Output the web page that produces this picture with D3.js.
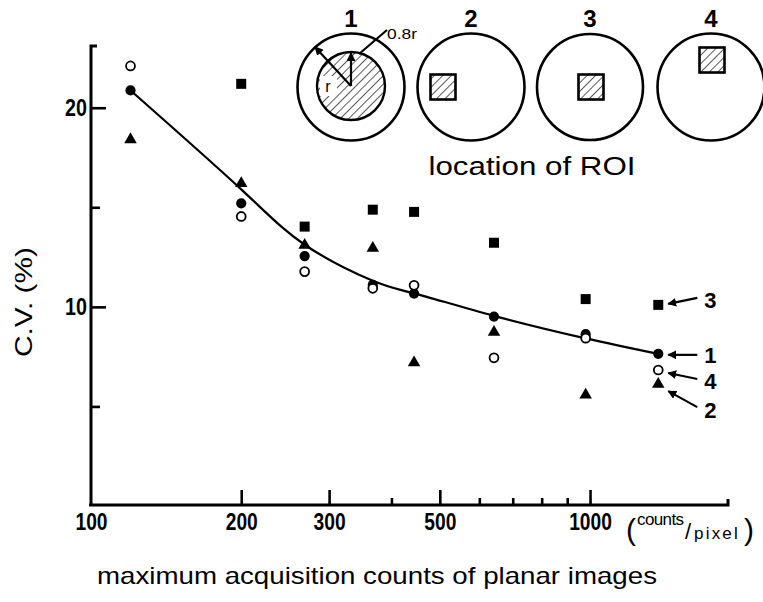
<!DOCTYPE html>
<html>
<head>
<meta charset="utf-8">
<script src="https://cdn.jsdelivr.net/npm/d3@7"></script>
<style>
  body { margin: 0; background: #fff; }
  svg { display: block; }
  text { font-family: "Liberation Sans", Arial, Helvetica, sans-serif; fill: #000; }
</style>
</head>
<body>
<svg id="chart" width="763" height="602"></svg>
<script>
// Maximum acquisition counts (counts/pixel) of the planar images
const counts = [120, 200, 268, 367, 444, 642, 980, 1370];

// Coefficient of variation (%) for each ROI location
const cvROI1 = [20.87, 15.2, 12.55, 11.1, 10.67, 9.51, 8.63, 7.64];   // filled circle
const cvROI2 = [18.4, 16.2, 13.1, 12.95, 7.2, 8.73, 5.58, 6.12];      // filled triangle
const cvROI3 = [null, 21.2, 14.03, 14.88, 14.77, 13.22, 10.39, 10.1]; // filled square
const cvROI4 = [22.1, 14.54, 11.77, 10.93, 11.08, 7.44, 8.43, 6.83];  // open circle

// Smoothed trend through the ROI 1 values
const trendCV = [20.87, 15.9, 13.12, 11.31, 10.68, 9.55, 8.42, 7.64];

// Axis ticks
const xLabelTicks = [100, 200, 300, 500, 1000];
const xMinorTicks = [400, 600, 700, 800, 900];
const yLabelTicks = [10, 20];
const yMinorTicks = [5, 15];

const svg = d3.select("#chart");

const x = d3.scaleLog().domain([100, 1890]).range([91, 728]);
const y = d3.scaleLinear().domain([0, 23.1]).range([506, 46]);

function condense(sel, k) {
  sel.each(function () {
    const w = this.getComputedTextLength();
    d3.select(this).attr("textLength", w * k).attr("lengthAdjust", "spacingAndGlyphs");
  });
}

// ---------- hatch pattern and arrowhead ----------
const defs = svg.append("defs");
defs.append("pattern")
  .attr("id", "hatch")
  .attr("patternUnits", "userSpaceOnUse")
  .attr("width", 6).attr("height", 6)
  .attr("patternTransform", "rotate(45)")
  .append("line")
  .attr("x1", 0).attr("y1", 0).attr("x2", 0).attr("y2", 6)
  .attr("stroke", "#000").attr("stroke-width", 1.3);

defs.append("marker")
  .attr("id", "head")
  .attr("viewBox", "0 0 10 10")
  .attr("refX", 9).attr("refY", 5)
  .attr("markerWidth", 4).attr("markerHeight", 4)
  .attr("markerUnits", "strokeWidth")
  .attr("orient", "auto")
  .append("path").attr("d", "M0,0 L10,5 L0,10 Z").attr("fill", "#000");

// ---------- axes ----------
const gY = svg.append("g").attr("transform", "translate(91,0)")
  .call(d3.axisLeft(y).tickValues(yLabelTicks).tickSizeInner(-15).tickSizeOuter(0)
    .tickPadding(4).tickFormat(d3.format("d")));
const gYm = svg.append("g").attr("transform", "translate(91,0)")
  .call(d3.axisLeft(y).tickValues(yMinorTicks).tickSizeInner(-9).tickSizeOuter(0).tickFormat(""));

const gX = svg.append("g").attr("transform", "translate(0,505)")
  .call(d3.axisBottom(x).tickValues(xLabelTicks).tickSizeInner(-15).tickSizeOuter(0)
    .tickPadding(8).tickFormat(d3.format("d")));
const gXm = svg.append("g").attr("transform", "translate(0,505)")
  .call(d3.axisBottom(x).tickValues(xMinorTicks).tickSizeInner(-7).tickSizeOuter(0).tickFormat(""));

[gY, gYm, gX, gXm].forEach(g => {
  g.select(".domain").remove();
  g.attr("font-family", null).attr("font-size", null);
  g.selectAll("line").attr("stroke", "#000").attr("stroke-width", 2.6);
});
gX.selectAll(".tick").filter(d => d === 100).select("line").remove();

gY.selectAll("text").attr("font-size", 24).attr("font-weight", "bold").attr("fill", "#000");
gX.selectAll("text").attr("font-size", 24).attr("font-weight", "bold").attr("fill", "#000");
condense(gY.selectAll("text"), 0.82);
condense(gX.selectAll("text"), 0.8);

// axis lines with their end caps
svg.append("path")
  .attr("d", `M${x.range()[0] + 6},${y.range()[1]} H${x.range()[0]} V${y.range()[0]}`)
  .attr("fill", "none").attr("stroke", "#000").attr("stroke-width", 3);
svg.append("path")
  .attr("d", `M${x.range()[0] - 2},505 H${x.range()[1]} V499`)
  .attr("fill", "none").attr("stroke", "#000").attr("stroke-width", 3);

// unit label after the last tick label: (counts/pixel)
const unit = svg.append("text").attr("y", 540);
unit.append("tspan").attr("x", 626).attr("font-size", 30).text("(");
unit.append("tspan").attr("x", 637).attr("y", 525).attr("font-size", 17)
  .attr("letter-spacing", -0.6).text("counts");
unit.append("tspan").attr("x", 685).attr("y", 539).attr("font-size", 22).text("/");
unit.append("tspan").attr("x", 694).attr("y", 539).attr("font-size", 17)
  .attr("letter-spacing", 2.2).text("pixel");
unit.append("tspan").attr("x", 744).attr("y", 540).attr("font-size", 30).text(")");

// axis titles
svg.append("text")
  .attr("transform", "translate(32,302) rotate(-90)")
  .attr("text-anchor", "middle")
  .attr("font-size", 24)
  .attr("textLength", 110).attr("lengthAdjust", "spacingAndGlyphs")
  .text("C.V. (%)");

svg.append("text")
  .attr("x", 377).attr("y", 584)
  .attr("text-anchor", "middle")
  .attr("font-size", 24)
  .attr("textLength", 560).attr("lengthAdjust", "spacingAndGlyphs")
  .text("maximum acquisition counts of planar images");

// ---------- trend curve ----------
const trend = counts.map((c, i) => [c, trendCV[i]]);
svg.append("path")
  .datum(trend)
  .attr("d", d3.line().x(d => x(d[0])).y(d => y(d[1])).curve(d3.curveNatural))
  .attr("fill", "none").attr("stroke", "#000").attr("stroke-width", 2.2);

// ---------- data points ----------
const series = [
  { roi: "3", values: cvROI3, type: d3.symbolSquare, size: 100, fill: "#000", stroke: "none", sw: 0 },
  { roi: "2", values: cvROI2, type: d3.symbolTriangle, size: 68, fill: "#000", stroke: "none", sw: 0 },
  { roi: "1", values: cvROI1, type: d3.symbolCircle, size: 82, fill: "#000", stroke: "none", sw: 0 },
  { roi: "4", values: cvROI4, type: d3.symbolCircle, size: 62, fill: "#fff", stroke: "#000", sw: 1.8 }
];

series.forEach(s => {
  const pts = counts.map((c, i) => ({ c, v: s.values[i] })).filter(d => d.v != null);
  svg.append("g").selectAll("path")
    .data(pts).join("path")
    .attr("transform", d => `translate(${x(d.c)},${y(d.v)})`)
    .attr("d", d3.symbol().type(s.type).size(s.size))
    .attr("fill", s.fill).attr("stroke", s.stroke).attr("stroke-width", s.sw);
});

// ---------- labels for the last points ----------
const lastIndex = counts.length - 1;
const callouts = [
  { roi: "3", values: cvROI3, tipDy: -1, tailDy: -7, labelDy: -5 },
  { roi: "1", values: cvROI1, tipDy: 1, tailDy: 1, labelDy: 1 },
  { roi: "4", values: cvROI4, tipDy: 3, tailDy: 9, labelDy: 11 },
  { roi: "2", values: cvROI2, tipDy: 7, tailDy: 23, labelDy: 26 }
];
callouts.forEach(a => {
  const px = x(counts[lastIndex]);
  const py = y(a.values[lastIndex]);
  svg.append("line")
    .attr("x1", px + 39).attr("y1", py + a.tailDy)
    .attr("x2", px + 10).attr("y2", py + a.tipDy)
    .attr("stroke", "#000").attr("stroke-width", 2.2)
    .attr("marker-end", "url(#head)");
  svg.append("text")
    .attr("x", px + 52).attr("y", py + a.labelDy)
    .attr("dy", "0.36em")
    .attr("text-anchor", "middle")
    .attr("font-size", 22).attr("font-weight", "bold")
    .text(a.roi);
});

// ---------- ROI location sketches ----------
const sketches = [
  { roi: "1", cx: 351, cy: 87, r: 53.5 },
  { roi: "2", cx: 471, cy: 87, r: 53.5, sq: [-28, 0] },
  { roi: "3", cx: 590, cy: 87, r: 53, sq: [1, 0] },
  { roi: "4", cx: 711, cy: 87, r: 53.5, sq: [1, -27] }
];
const gS = svg.append("g");
sketches.forEach(s => {
  gS.append("circle").attr("cx", s.cx).attr("cy", s.cy).attr("r", s.r)
    .attr("fill", "#fff").attr("stroke", "#000").attr("stroke-width", 2.6);
  gS.append("text").attr("x", s.cx).attr("y", 27)
    .attr("text-anchor", "middle").attr("font-size", 24).attr("font-weight", "bold")
    .text(s.roi);
  if (s.sq) {
    gS.append("rect")
      .attr("x", s.cx + s.sq[0] - 12.5).attr("y", s.cy + s.sq[1] - 12.5)
      .attr("width", 25).attr("height", 25)
      .attr("fill", "url(#hatch)").attr("stroke", "#000").attr("stroke-width", 2.6);
  }
});

// central disc of sketch 1 with its radius annotations
const s1 = sketches[0];
gS.append("circle").attr("cx", s1.cx).attr("cy", s1.cy - 1).attr("r", 34)
  .attr("fill", "url(#hatch)").attr("stroke", "#000").attr("stroke-width", 2.4);
gS.append("rect").attr("x", 320).attr("y", 76).attr("width", 17).attr("height", 20).attr("fill", "#fff");
gS.append("text").attr("x", 328).attr("y", 92).attr("text-anchor", "middle").attr("font-size", 16).text("r");
gS.append("line")
  .attr("x1", s1.cx).attr("y1", s1.cy - 1).attr("x2", 315).attr("y2", 47)
  .attr("stroke", "#000").attr("stroke-width", 2.2).attr("marker-end", "url(#head)");
gS.append("line")
  .attr("x1", s1.cx).attr("y1", s1.cy - 1).attr("x2", s1.cx).attr("y2", 53)
  .attr("stroke", "#000").attr("stroke-width", 2.2).attr("marker-end", "url(#head)");
gS.append("line")
  .attr("x1", 359).attr("y1", 54).attr("x2", 387).attr("y2", 30)
  .attr("stroke", "#000").attr("stroke-width", 2.2);
gS.append("text").attr("x", 387).attr("y", 39).attr("font-size", 15)
  .attr("textLength", 30).attr("lengthAdjust", "spacingAndGlyphs").text("0.8r");

svg.append("text")
  .attr("x", 532).attr("y", 175)
  .attr("text-anchor", "middle")
  .attr("font-size", 25)
  .attr("textLength", 207).attr("lengthAdjust", "spacingAndGlyphs")
  .text("location of ROI");
</script>
</body>
</html>
